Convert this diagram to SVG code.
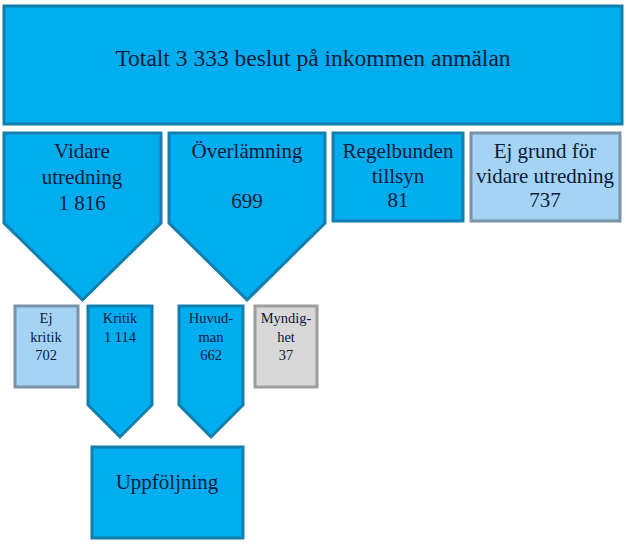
<svg xmlns="http://www.w3.org/2000/svg" width="626" height="545" viewBox="0 0 626 545">
<style>
.b{fill:#00AEEF;stroke:#127FAE;stroke-width:3;stroke-linejoin:miter}
.lb{fill:#A4D3F4;stroke:#7A93AB;stroke-width:3}
.g{fill:#D8D8D8;stroke:#9E9E9E;stroke-width:3}
text{fill:#0D1A3A;text-anchor:middle}
.t1{font-size:23.5px}
.t2{font-size:21px}
.t3{font-size:14.5px}
.t4{font-size:21px}
</style>
<rect width="626" height="545" fill="#fff"/>
<g font-family="'Liberation Serif', 'DejaVu Serif', serif">
<g id="total">
<rect class="b" x="4" y="6" width="618" height="118"/>
<text class="t1" x="313" y="66">Totalt 3 333 beslut på inkommen anmälan</text>
</g>
<g id="vidare">
<polygon class="b" points="4,133 161,133 161,223 82.5,300 4,223"/>
<text class="t2" x="82" y="158">Vidare</text>
<text class="t2" x="82" y="184">utredning</text>
<text class="t2" x="82" y="210">1 816</text>
</g>
<g id="overlamning">
<polygon class="b" points="169,133 325,133 325,223 247,300 169,223"/>
<text class="t2" x="247" y="158">Överlämning</text>
<text class="t2" x="247" y="208">699</text>
</g>
<g id="regelbunden">
<rect class="b" x="333" y="133" width="130" height="88"/>
<text class="t2" x="398" y="158">Regelbunden</text>
<text class="t2" x="398" y="183">tillsyn</text>
<text class="t2" x="398" y="207">81</text>
</g>
<g id="ejgrund">
<rect class="lb" x="471" y="133" width="149" height="88"/>
<text class="t2" x="545" y="158">Ej grund för</text>
<text class="t2" x="545" y="183">vidare utredning</text>
<text class="t2" x="545" y="207">737</text>
</g>
<g id="ejkritik">
<rect class="lb" x="15" y="306" width="63" height="81"/>
<text class="t3" x="46" y="323">Ej</text>
<text class="t3" x="46" y="342">kritik</text>
<text class="t3" x="46" y="360">702</text>
</g>
<g id="kritik">
<polygon class="b" points="88,306 152,306 152,405 120,437 88,405"/>
<text class="t3" x="120" y="323">Kritik</text>
<text class="t3" x="120" y="342">1 114</text>
</g>
<g id="huvudman">
<polygon class="b" points="179,306 243,306 243,405 211,437 179,405"/>
<text class="t3" x="211" y="323">Huvud-</text>
<text class="t3" x="211" y="342">man</text>
<text class="t3" x="211" y="360">662</text>
</g>
<g id="myndighet">
<rect class="g" x="255" y="306" width="62" height="81"/>
<text class="t3" x="286" y="323">Myndig-</text>
<text class="t3" x="286" y="342">het</text>
<text class="t3" x="286" y="360">37</text>
</g>
<g id="uppfoljning">
<rect class="b" x="92" y="447" width="151" height="91"/>
<text class="t4" x="167" y="489">Uppföljning</text>
</g>
</g>
<g id="connectors"></g>
</svg>
